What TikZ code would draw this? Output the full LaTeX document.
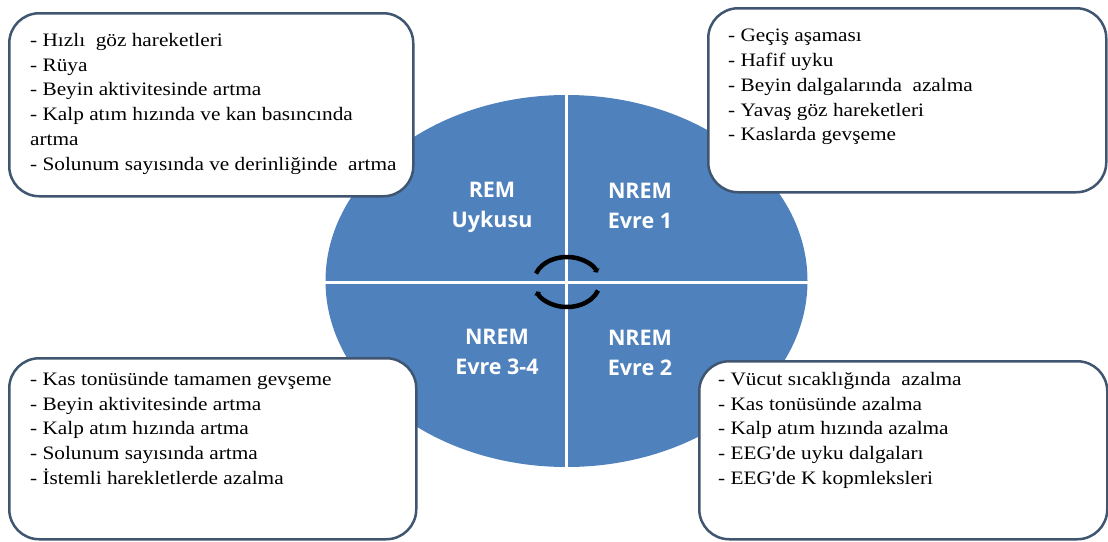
\documentclass[tikz,border=0pt]{standalone}
\usepackage{fontspec}
\setmainfont[Ligatures=TeXOff,FakeStretch=1.12]{Liberation Serif}
\newfontfamily\phasefont{Open Sans}
\usepackage{tikz}
\usetikzlibrary{arrows.meta}
\usetikzlibrary{positioning}
\usetikzlibrary{calc}

\definecolor{phaseblue}{RGB}{79,129,189}
\definecolor{boxline}{RGB}{63,85,112}

\tikzset{
  notebox/.style={draw=boxline, line width=2.5pt, fill=white, rounded corners=30pt, anchor=north west},
  notes/.style={align=left, inner sep=0pt, font=\fontsize{19}{24.8}\selectfont},
  phase/.style={align=center, text=white, font=\phasefont\bfseries\fontsize{21.5}{30}\selectfont},
  cycle arrow/.style={line width=4.5pt, -{Triangle[length=3pt,width=7.5pt]}},
}

\begin{document}
\begin{tikzpicture}[x=1pt,y=-1pt]
\useasboundingbox (0,0) rectangle (1108,541);
% the four phases
\fill[phaseblue] (566.5,281) ellipse [x radius=241, y radius=186];
\draw[white, line width=3pt] (566.5,90) -- (566.5,472);
\draw[white, line width=3pt] (320,282) -- (812,282);
\node[phase] (rem) at (492,207) {REM\\Uykusu};
\node[phase] (nrem1) at (640,206) {NREM\\Evre 1};
\node[phase] (nrem34) at (497,352) {NREM\\Evre 3-4};
\node[phase] (nrem2) at (640,353) {NREM\\Evre 2};
% cycle
\coordinate (hub) at (567,282);
\coordinate (cycA) at ($(hub)+(200:33 and 25)$);
\coordinate (cycB) at ($(hub)+(20:33 and 25)$);
\draw[cycle arrow] (cycA) arc[start angle=200, end angle=338, x radius=33, y radius=25];
\draw[cycle arrow] (cycB) arc[start angle=20, end angle=158, x radius=33, y radius=25];
% boxes
\node[notebox, minimum width=404pt, minimum height=183pt] (remBox) at (8,12) {};
\node[notebox, minimum width=398pt, minimum height=184pt] (nrem1Box) at (707,7) {};
\node[notebox, minimum width=407pt, minimum height=181pt] (nrem34Box) at (8,357) {};
\node[notebox, minimum width=408pt, minimum height=178pt] (nrem2Box) at (698,360) {};
\node[notes, below right=21pt and 22pt of remBox.north west] (remNotes)
  {- Hızlı~ göz hareketleri\\- Rüya\\- Beyin aktivitesinde artma\\- Kalp atım hızında ve kan basıncında\\artma\\- Solunum sayısında ve derinliğinde~ artma};
\node[notes, below right=22pt and 21pt of nrem1Box.north west] (nrem1Notes)
  {- Geçiş aşaması\\- Hafif uyku\\- Beyin dalgalarında~ azalma\\- Yavaş göz hareketleri\\- Kaslarda gevşeme};
\node[notes, below right=15pt and 22pt of nrem34Box.north west] (nrem34Notes)
  {- Kas tonüsünde tamamen gevşeme\\- Beyin aktivitesinde artma\\- Kalp atım hızında artma\\- Solunum sayısında artma\\- İstemli harekletlerde azalma};
\node[notes, below right=12pt and 20pt of nrem2Box.north west] (nrem2Notes)
  {- Vücut sıcaklığında~ azalma\\- Kas tonüsünde azalma\\- Kalp atım hızında azalma\\- EEG'de uyku dalgaları\\- EEG'de K kopmleksleri};
\end{tikzpicture}
\end{document}
